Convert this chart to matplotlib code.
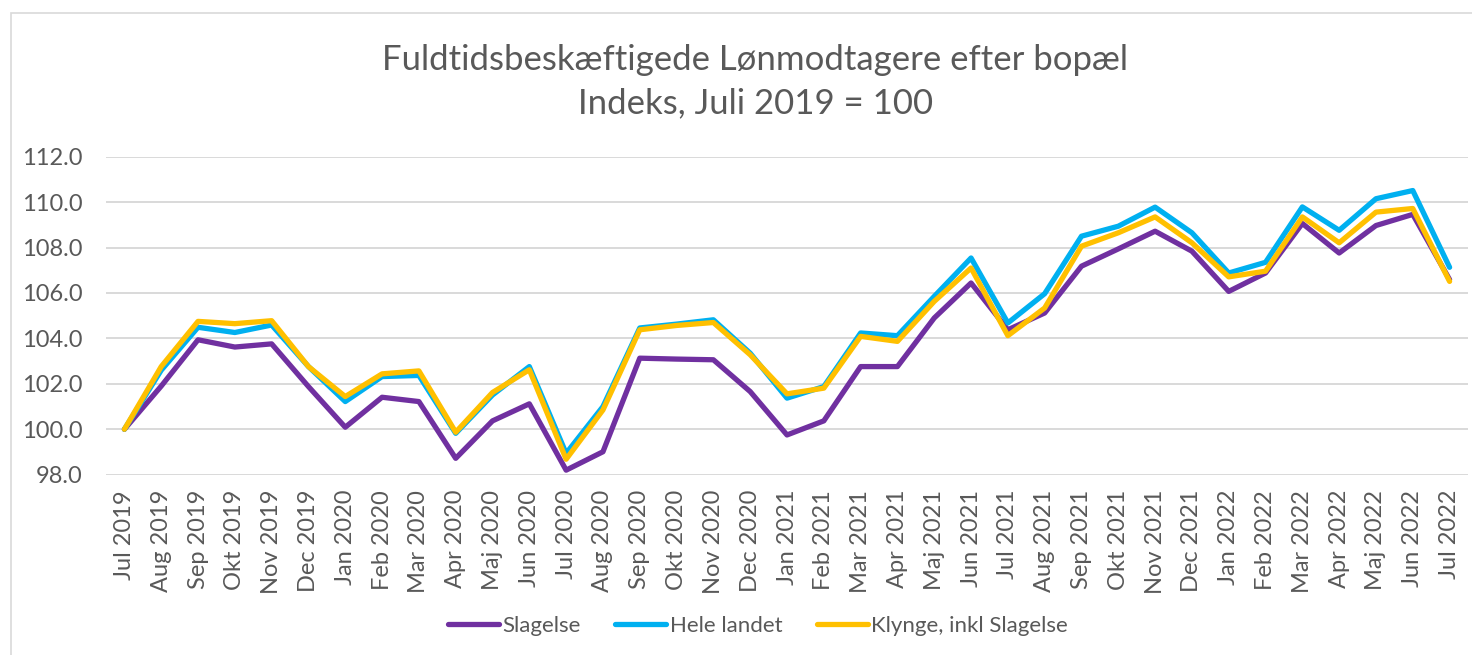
import matplotlib.pyplot as plt
from matplotlib.patches import Rectangle

plt.rcParams['font.family'] = ['Lato', 'DejaVu Sans']

months = ['Jul 2019', 'Aug 2019', 'Sep 2019', 'Okt 2019', 'Nov 2019', 'Dec 2019',
          'Jan 2020', 'Feb 2020', 'Mar 2020', 'Apr 2020', 'Maj 2020', 'Jun 2020',
          'Jul 2020', 'Aug 2020', 'Sep 2020', 'Okt 2020', 'Nov 2020', 'Dec 2020',
          'Jan 2021', 'Feb 2021', 'Mar 2021', 'Apr 2021', 'Maj 2021', 'Jun 2021',
          'Jul 2021', 'Aug 2021', 'Sep 2021', 'Okt 2021', 'Nov 2021', 'Dec 2021',
          'Jan 2022', 'Feb 2022', 'Mar 2022', 'Apr 2022', 'Maj 2022', 'Jun 2022',
          'Jul 2022']

slagelse = [100.0, 101.9, 103.94, 103.62, 103.76, 101.88, 100.09, 101.41, 101.22, 98.72,
            100.37, 101.12, 98.2, 99.01, 103.13, 103.09, 103.06, 101.66, 99.75, 100.37,
            102.76, 102.76, 104.9, 106.44, 104.38, 105.12, 107.18, 107.94, 108.72, 107.84,
            106.07, 106.88, 109.06, 107.76, 108.97, 109.46, 106.59]

hele_landet = [100.0, 102.6, 104.49, 104.26, 104.59, 102.76, 101.22, 102.32, 102.37, 99.82,
               101.51, 102.76, 98.94, 101.0, 104.46, 104.63, 104.82, 103.35, 101.37, 101.88,
               104.24, 104.12, 105.85, 107.54, 104.68, 105.97, 108.5, 108.94, 109.78, 108.65,
               106.88, 107.35, 109.79, 108.76, 110.15, 110.51, 107.13]

klynge = [100.0, 102.76, 104.75, 104.65, 104.78, 102.76, 101.44, 102.44, 102.57, 99.87,
          101.62, 102.62, 98.68, 100.85, 104.38, 104.57, 104.7, 103.28, 101.56, 101.81,
          104.09, 103.87, 105.63, 107.1, 104.12, 105.34, 108.06, 108.65, 109.35, 108.21,
          106.71, 106.96, 109.35, 108.21, 109.56, 109.72, 106.51]

yticks = [98.0, 100.0, 102.0, 104.0, 106.0, 108.0, 110.0, 112.0]

grey = '#595959'

fig = plt.figure(figsize=(14.72, 6.55), dpi=100)
# light frame round the chart area (right and bottom edges fall outside the picture)
fig.patches.append(Rectangle((11 / 1472, -0.1), 1.2, 1 - 13 / 655 + 0.1,
                             transform=fig.transFigure, fill=False,
                             edgecolor='#D9D9D9', linewidth=1.2))

ax = fig.add_axes([106 / 1472, 1 - 474.7 / 655, 1362 / 1472, 318 / 655])
x = range(len(months))
ax.plot(x, slagelse, color='#7030A0', linewidth=3.8, label='Slagelse', solid_joinstyle='round', solid_capstyle='round')
ax.plot(x, hele_landet, color='#00B0F0', linewidth=3.8, label='Hele landet', solid_joinstyle='round', solid_capstyle='round')
ax.plot(x, klynge, color='#FFC000', linewidth=3.8, label='Klynge, inkl Slagelse', solid_joinstyle='round', solid_capstyle='round')

ax.set_xlim(-0.5, len(months) - 0.5)
ax.set_ylim(98, 112)
ax.set_yticks(yticks)
ax.set_yticklabels(['%.1f' % v for v in yticks])
ax.set_xticks(list(x))
ax.set_xticklabels(months, rotation=90)
ax.tick_params(axis='y', length=0, pad=17, labelsize=17, labelcolor=grey)
ax.tick_params(axis='x', length=0, pad=11, labelsize=17, labelcolor=grey)
ax.grid(axis='y', color='#D9D9D9', linewidth=1.4)
ax.set_axisbelow(True)
for s in ax.spines.values():
    s.set_visible(False)

fig.text(0.513, 1 - 60 / 655, 'Fuldtidsbeskæftigede Lønmodtagere efter bopæl',
         ha='center', va='center', fontsize=25, color=grey)
fig.text(0.513, 1 - 103 / 655, 'Indeks, Juli 2019 = 100',
         ha='center', va='center', fontsize=25, color=grey)

fig.legend(loc='center', bbox_to_anchor=(0.515, 1 - 626 / 655), ncol=3, frameon=False,
           fontsize=16, handlelength=2.3, handletextpad=0.15, columnspacing=1.55,
           labelcolor=grey)

fig.savefig('out.png', dpi=100)
